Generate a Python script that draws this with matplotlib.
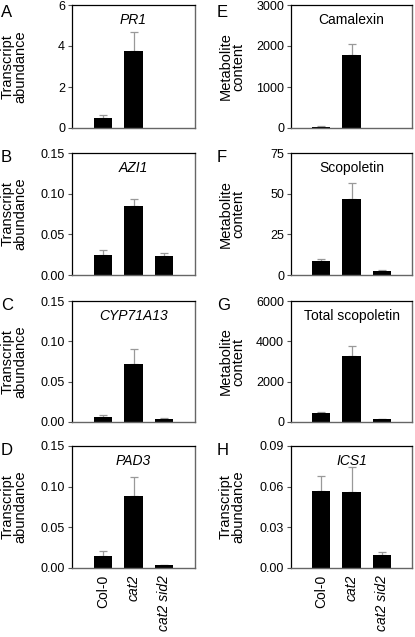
import matplotlib
matplotlib.use("Agg")
import matplotlib.pyplot as plt

plt.rcParams['font.family'] = ['Liberation Sans', 'DejaVu Sans']

genotypes = ["Col-0", "cat2", "cat2 sid2"]

pr1_mean = [0.51, 3.78, 0.0]
pr1_err = [0.14, 0.89, 0.0]
azi1_mean = [0.0245, 0.0844, 0.0228]
azi1_err = [0.0065, 0.0096, 0.0042]
cyp_mean = [0.0066, 0.0717, 0.0037]
cyp_err = [0.0016, 0.0183, 0.0012]
pad3_mean = [0.0147, 0.0883, 0.0033]
pad3_err = [0.0057, 0.0233, 0.0004]
camalexin_mean = [24, 1769, 0]
camalexin_err = [16, 269, 0]
scop_mean = [8.8, 46.8, 2.4]
scop_err = [0.8, 10.0, 0.5]
totscop_mean = [426, 3295, 131]
totscop_err = [49, 475, 19]
ics1_mean = [0.0566, 0.0559, 0.0096]
ics1_err = [0.0113, 0.0184, 0.0022]

panels = [
    # letter, title, italic, ylabel, mean, err, ylim, ticks, ticklabels, column, row
    ("A", "PR1", True, "Transcript\nabundance", pr1_mean, pr1_err, 6, [0, 2, 4, 6], ["0", "2", "4", "6"], 0, 0),
    ("B", "AZI1", True, "Transcript\nabundance", azi1_mean, azi1_err, 0.15, [0, 0.05, 0.10, 0.15], ["0.00", "0.05", "0.10", "0.15"], 0, 1),
    ("C", "CYP71A13", True, "Transcript\nabundance", cyp_mean, cyp_err, 0.15, [0, 0.05, 0.10, 0.15], ["0.00", "0.05", "0.10", "0.15"], 0, 2),
    ("D", "PAD3", True, "Transcript\nabundance", pad3_mean, pad3_err, 0.15, [0, 0.05, 0.10, 0.15], ["0.00", "0.05", "0.10", "0.15"], 0, 3),
    ("E", "Camalexin", False, "Metabolite\ncontent", camalexin_mean, camalexin_err, 3000, [0, 1000, 2000, 3000], ["0", "1000", "2000", "3000"], 1, 0),
    ("F", "Scopoletin", False, "Metabolite\ncontent", scop_mean, scop_err, 75, [0, 25, 50, 75], ["0", "25", "50", "75"], 1, 1),
    ("G", "Total scopoletin", False, "Metabolite\ncontent", totscop_mean, totscop_err, 6000, [0, 2000, 4000, 6000], ["0", "2000", "4000", "6000"], 1, 2),
    ("H", "ICS1", True, "Transcript\nabundance", ics1_mean, ics1_err, 0.09, [0, 0.03, 0.06, 0.09], ["0.00", "0.03", "0.06", "0.09"], 1, 3),
]

W, H = 415, 637
fig = plt.figure(figsize=(W / 100, H / 100), dpi=100)

col_x = [(72, 123), (291, 121)]
row_y = [(5, 128), (153, 275), (301, 422), (446, 568)]
ylabel_x = [14, 232]
letter_x = [1, 217]

for letter, title, italic, ylabel, mean, err, ymax, ticks, tlabels, col, row in panels:
    x0, w = col_x[col]
    top, bot = row_y[row]
    hgt = bot - top
    ax = fig.add_axes([x0 / W, 1 - bot / H, w / W, hgt / H])
    xs = list(range(len(genotypes)))
    ax.bar(xs, mean, width=0.6, color="black", linewidth=0, zorder=2)
    shown = [i for i in xs if mean[i] > 0]
    ax.errorbar([xs[i] for i in shown], [mean[i] for i in shown],
                yerr=[[0] * len(shown), [err[i] for i in shown]], fmt="none",
                ecolor="#999999", elinewidth=0.9, capsize=3, capthick=0.9, zorder=1)
    ax.set_xlim(-1, 3)
    ax.set_ylim(0, ymax)
    ax.set_yticks(ticks)
    ax.set_yticklabels(tlabels)
    ax.tick_params(axis="y", direction="out", length=3, width=0.8, color="#555555",
                   labelsize=9, pad=2)
    ax.tick_params(axis="x", length=0)
    for s in ["left", "top"]:
        ax.spines[s].set_color("black")
        ax.spines[s].set_linewidth(0.9)
    for s in ["bottom", "right"]:
        ax.spines[s].set_color("#666666")
        ax.spines[s].set_linewidth(1.0)
    ax.set_ylabel(ylabel, fontsize=10.5, linespacing=0.95, va="center", ha="center")
    ax.yaxis.set_label_coords((ylabel_x[col] - x0) / w, 0.5)
    ax.text(0.5, 0.875, title, transform=ax.transAxes, ha="center", va="center",
            fontsize=10, style="italic" if italic else "normal")
    ax.text((letter_x[col] - x0) / w, 1 + 3 / hgt if row > 0 else 1.0, letter,
            transform=ax.transAxes, ha="left", va="top", fontsize=12)
    if row == 3:
        ax.set_xticks(xs)
        lbls = ax.set_xticklabels(genotypes, rotation=90, fontsize=10)
        ax.tick_params(axis="x", pad=5)
        lbls[1].set_style("italic")
        lbls[2].set_style("italic")
    else:
        ax.set_xticks([])

fig.savefig("out.png", dpi=100)
